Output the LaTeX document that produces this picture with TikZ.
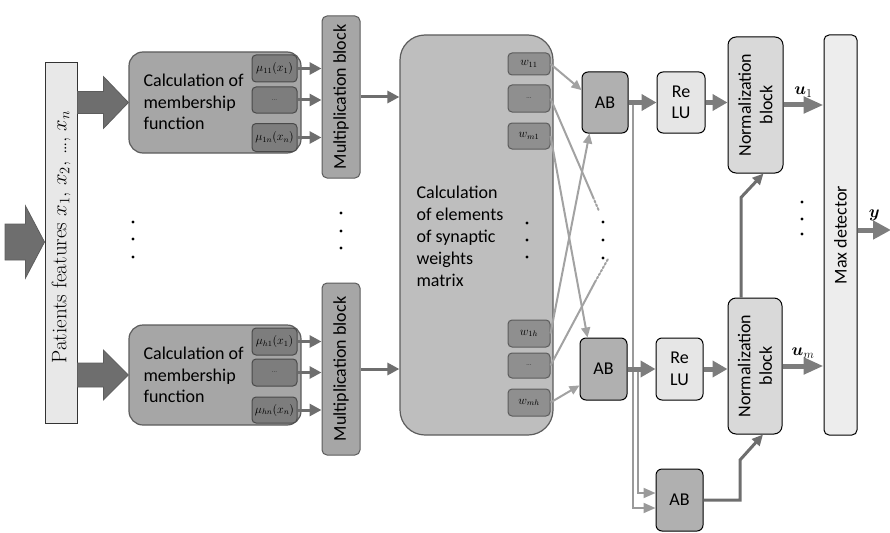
\documentclass[tikz,border=0pt]{standalone}
\usepackage{amsmath}
\usepackage{fontspec}
\newfontfamily\calib{Carlito}
\usetikzlibrary{arrows.meta,calc}

\definecolor{darkarrow}{HTML}{6E6E6E}
\definecolor{lightline}{HTML}{A2A2A2}
\definecolor{calcfill}{HTML}{A6A6A6}
\definecolor{calcedge}{HTML}{5C5C5C}
\definecolor{mufill}{HTML}{7D7D7D}
\definecolor{wtfill}{HTML}{BEBEBE}
\definecolor{wfill}{HTML}{8F8F8F}
\definecolor{abfill}{HTML}{B0B0B0}
\definecolor{relufill}{HTML}{E6E6E6}
\definecolor{normfill}{HTML}{D9D9D9}
\definecolor{maxfill}{HTML}{EDEDED}
\definecolor{barfill}{HTML}{E8E8E8}

\begin{document}
\begin{tikzpicture}[x=1pt,y=-1pt,
  blk/.style={inner sep=0pt, line width=1pt},
  lbl/.style={font=\calib\fontsize{18}{21.5}\selectfont, align=left},
  calcbox/.style={blk, draw=calcedge, fill=calcfill, rounded corners=14pt, line width=1.2pt},
  mubox/.style={blk, draw=calcedge!80!black, fill=mufill, rounded corners=4pt, minimum width=45,
                font=\fontsize{12}{14}\selectfont, text=black},
  multbox/.style={blk, draw=calcedge, fill=calcfill, rounded corners=5pt, minimum width=38,
                  font=\calib\fontsize{18}{21}\selectfont},
  wbox/.style={blk, draw=calcedge, fill=wfill, rounded corners=4pt, minimum width=42,
               font=\fontsize{12}{14}\selectfont, text=black},
  abbox/.style={blk, draw=black, fill=abfill, rounded corners=6pt, lbl},
  relubox/.style={blk, draw=black, fill=relufill, rounded corners=6pt, lbl, align=center},
  normbox/.style={blk, draw=black, fill=normfill, rounded corners=8pt},
  bigarrow/.style={fill=darkarrow, draw=darkarrow!85!black, line width=0.8pt, line join=miter},
  fatarrow/.style={-{Triangle[length=15pt,width=16pt]}, draw=darkarrow!90!white, line width=5pt},
  midarrow/.style={-{Triangle[length=12pt,width=12pt]}, draw=darkarrow, line width=3pt},
  thinlight/.style={-{Triangle[length=10pt,width=9pt]}, draw=lightline, line width=2pt},
  lightroute/.style={-{Triangle[length=12pt,width=10pt]}, draw=lightline!95!black, line width=2pt},
  darkroute/.style={-{Triangle[length=11pt,width=10pt]}, draw=darkarrow, line width=3pt},
  dotline/.style={draw=lightline, line width=2pt, dotted, line cap=round},
  outlbl/.style={font=\fontsize{18}{20}\selectfont, text=black},
  dots/.style={font=\fontsize{9}{10}\selectfont, text=black!80},
  dot/.style={fill=black}
]
\useasboundingbox (0,0) rectangle (890,532);

% input feature bar
\node[blk, draw=black!80, fill=barfill, minimum width=32, minimum height=360] (bar) at (61,243) {};
\node[rotate=90, font=\fontsize{21}{24}\selectfont] (feat) at (61,237)
  {Patients features $x_1$, $x_2$, \ldots, $x_n$};

% membership function blocks
\node[calcbox, minimum width=172, minimum height=101] (calc1) at (215,102.5) {};
\node[calcbox, minimum width=172, minimum height=100] (calc2) at (215,375) {};
\node[lbl, anchor=west] (calc1t) at (140,102) {Calculation of\\membership\\function};
\node[lbl, anchor=west] (calc2t) at (140,375) {Calculation of\\membership\\function};

\node[mubox, minimum height=27] (mu11) at (274.5,68.5) {$\mu_{11}(x_1)$};
\node[mubox, minimum height=26, dots] (mu1d) at (274.5,100) {\ldots};
\node[mubox, minimum height=28] (mu1n) at (274.5,137.5) {$\mu_{1n}(x_n)$};
\node[mubox, minimum height=27] (muh1) at (274.5,341.5) {$\mu_{h1}(x_1)$};
\node[mubox, minimum height=27, dots] (muhd) at (274.5,372.5) {\ldots};
\node[mubox, minimum height=26] (muhn) at (274.5,410) {$\mu_{hn}(x_n)$};

% multiplication blocks
\node[multbox, minimum height=162] (mult1) at (341,97) {};
\node[multbox, minimum height=172] (mult2) at (341,369) {};
\node[rotate=90, font=\calib\fontsize{18}{21}\selectfont] (mult1t) at (mult1) {Multiplication block};
\node[rotate=90, font=\calib\fontsize{18}{21}\selectfont] (mult2t) at (mult2) {Multiplication block};

% synaptic weights block
\node[blk, draw=calcedge, fill=wtfill, rounded corners=25pt, minimum width=153, minimum height=400, line width=1.2pt] (wts) at (476.5,235) {};
\node[lbl, anchor=west, font=\calib\fontsize{18}{22}\selectfont] (wtst) at (413,236)
  {Calculation\\of elements\\of synaptic\\weights\\matrix};
\node[wbox, minimum height=22] (w11) at (529,64) {$w_{11}$};
\node[wbox, minimum height=27, dots] (w1d) at (529,98.5) {\ldots};
\node[wbox, minimum height=26] (wm1) at (529,136) {$w_{m1}$};
\node[wbox, minimum height=27] (w1h) at (529,333.5) {$w_{1h}$};
\node[wbox, minimum height=25, dots] (whd) at (529,365.5) {\ldots};
\node[wbox, minimum height=27] (wmh) at (529,402.5) {$w_{mh}$};

% adder, ReLU, normalization and detector blocks
\node[abbox, minimum width=46, minimum height=61] (ab1) at (605,102.5) {AB};
\node[abbox, minimum width=47, minimum height=62] (ab2) at (603.5,369) {AB};
\node[abbox, minimum width=47, minimum height=62] (ab3) at (679.5,500) {AB};
\node[relubox, minimum width=48, minimum height=61] (relu1) at (681,102.5) {Re\\LU};
\node[relubox, minimum width=47, minimum height=62] (relu2) at (679.5,369) {Re\\LU};
\node[normbox, minimum width=55, minimum height=136] (norm1) at (755.5,105) {};
\node[normbox, minimum width=54, minimum height=136] (norm2) at (755,366) {};
\node[rotate=90, lbl, align=center] (norm1t) at (norm1) {Normalization\\block};
\node[rotate=90, lbl, align=center] (norm2t) at (norm2) {Normalization\\block};
\node[blk, draw=black, fill=maxfill, rounded corners=5pt, minimum width=33, minimum height=400] (maxd) at (840.5,235) {};
\node[rotate=90, lbl] (maxdt) at (maxd) {Max detector};

% big block arrows: tail, head base and tip
\coordinate (inL) at (5,242);
\coordinate (inE) at (inL -| bar.west);
\filldraw[bigarrow] ($(inL)+(0,-18)$) -- ($(inE)+(-19,-18)$) -- ($(inE)+(-19,-36)$) -- (inE)
  -- ($(inE)+(-19,36)$) -- ($(inE)+(-19,18)$) -- ($(inL)+(0,18)$) -- cycle;
\coordinate (t1S) at (bar.east |- calc1.west);
\coordinate (t1E) at (calc1.west);
\filldraw[bigarrow] ($(t1S)+(0,-11)$) -- ($(t1E)+(-25,-11)$) -- ($(t1E)+(-25,-26)$) -- (t1E)
  -- ($(t1E)+(-25,26)$) -- ($(t1E)+(-25,11)$) -- ($(t1S)+(0,11)$) -- cycle;
\coordinate (t2S) at (bar.east |- calc2.west);
\coordinate (t2E) at (calc2.west);
\filldraw[bigarrow] ($(t2S)+(0,-12)$) -- ($(t2E)+(-25,-12)$) -- ($(t2E)+(-25,-25)$) -- (t2E)
  -- ($(t2E)+(-25,25)$) -- ($(t2E)+(-25,12)$) -- ($(t2S)+(0,12)$) -- cycle;

% membership values into multiplication blocks
\foreach \m in {mu11,mu1d,mu1n}{\draw[midarrow] (\m.east) -- (\m.east -| mult1.west);}
\foreach \m in {muh1,muhd,muhn}{\draw[midarrow] (\m.east) -- (\m.east -| mult2.west);}
\draw[midarrow] (mult1.east) -- (mult1.east -| wts.west);
\draw[midarrow] (mult2.east) -- (mult2.east -| wts.west);

% weights into adders
\coordinate (c1a) at (593,197);
\coordinate (c1b) at (599,211);
\coordinate (c2a) at (595,282);
\coordinate (c2b) at (608,259);
\draw[thinlight] (w11.east) -- ($(ab1.north west)!0.3!(ab1.south west)$);
\draw[draw=lightline, line width=2pt] (w1d.east) -- (c1a);
\draw[dotline] (c1a) -- (c1b);
\draw[thinlight] (wm1.east) -- ($(ab2.north west)+(8,0)$);
\draw[thinlight] (w1h.east) -- ($(ab1.south west)+(8,0)$);
\draw[draw=lightline, line width=2pt] (whd.east) -- (c2a);
\draw[dotline] (c2a) -- (c2b);
\draw[thinlight] (wmh.east) -- ($(ab2.north west)!0.76!(ab2.south west)$);

% adder outputs towards the extra adder
\draw[lightroute] (ab1.east) -- ++(4,0) |- ($(ab3.west)+(0,8)$);
\draw[lightroute] (ab2.east) -- ++(10,0) |- ($(ab3.west)+(0,-7)$);

% main chains
\draw[fatarrow] (ab1.east) -- (relu1.west);
\draw[fatarrow] (relu1.east) -- (relu1.east -| norm1.west);
\draw[fatarrow] (ab2.east) -- (relu2.west);
\draw[fatarrow] (relu2.east) -- (relu2.east -| norm2.west);
\draw[fatarrow, -{Triangle[length=20pt,width=16pt]}] (norm1.east) -- (norm1.east -| maxd.west)
  node[midway, above=2pt, outlbl] (u1) {$\boldsymbol{u}_1$};
\draw[fatarrow, -{Triangle[length=20pt,width=16pt]}] (norm2.east) -- (norm2.east -| maxd.west)
  node[midway, above=2pt, outlbl] (um) {$\boldsymbol{u}_m$};
\coordinate (yout) at (891,230);
\draw[fatarrow, -{Triangle[length=18pt,width=18pt]}] (maxd.east |- yout) -- (yout)
  node[pos=0.5, above=3pt, outlbl] (ylab) {$\boldsymbol{y}$};

% normalization links
\coordinate (k1) at (740,460);
\draw[darkroute] (ab3.east) -| (k1) -- ($(norm2.south)+(8,0)$);
\draw[darkroute] ($(norm2.north)+(-14,0)$) -- ++(0,-100) -- ($(norm1.south)+(8,0)$);

% ellipsis dots
\foreach \x/\y in {133/222,133/239,133/257, 341/213,341/231,341/248,
                   527/223,527/240,527/257, 603/222,603/240,603/258,
                   802/202,802/219,802/234}
  \fill[dot] (\x,\y) circle (1.6pt);
\end{tikzpicture}
\end{document}
